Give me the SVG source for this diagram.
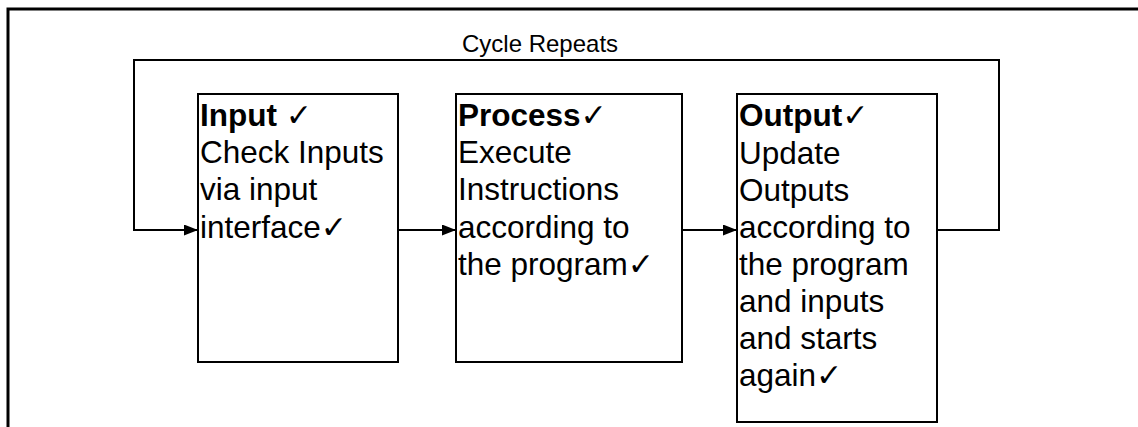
<svg xmlns="http://www.w3.org/2000/svg" width="1138" height="427" viewBox="0 0 1138 427">
<style>
.box{fill:#fff;stroke:#000;stroke-width:2}
.t{font-family:"Liberation Sans",Arial,"DejaVu Sans",sans-serif;font-size:31.5px;fill:#000}
.b{font-weight:bold}
.ln{fill:none;stroke:#000;stroke-width:2}
.frame{fill:none;stroke:#000;stroke-width:3}
</style>
<defs>
<marker id="ah" markerWidth="14" markerHeight="11" refX="14" refY="5.5" orient="auto" markerUnits="userSpaceOnUse">
<path d="M0,0 L14,5.5 L0,11 Z" fill="#000"/>
</marker>
</defs>
<rect width="1138" height="427" fill="#fff"/>
<path class="frame" d="M8,427 V9 H1138"/>
<g id="connectors">
<path class="ln" d="M937,230 H999 V60 H134 V230 H198" marker-end="url(#ah)"/>
<path class="ln" d="M398,230 H456" marker-end="url(#ah)"/>
<path class="ln" d="M682,230 H737" marker-end="url(#ah)"/>
</g>
<text class="t" x="462" y="52" style="font-size:24px">Cycle Repeats</text>
<g id="input">
<rect class="box" x="198" y="94" width="200" height="268"/>
<text class="t"><tspan class="b" x="200" y="126">Input</tspan><tspan> ✓</tspan><tspan x="200" y="163">Check Inputs</tspan><tspan x="200" y="200">via input</tspan><tspan x="200" y="238">interface✓</tspan></text>
</g>
<g id="process">
<rect class="box" x="456" y="94" width="226" height="268"/>
<text class="t"><tspan class="b" x="458" y="126">Process</tspan><tspan>✓</tspan><tspan x="458" y="163">Execute</tspan><tspan x="458" y="200">Instructions</tspan><tspan x="458" y="238">according to</tspan><tspan x="458" y="275">the program✓</tspan></text>
</g>
<g id="output">
<rect class="box" x="737" y="94" width="200" height="328"/>
<text class="t"><tspan class="b" x="739" y="126">Output</tspan><tspan>✓</tspan><tspan x="739" y="164">Update</tspan><tspan x="739" y="201">Outputs</tspan><tspan x="739" y="238">according to</tspan><tspan x="739" y="275">the program</tspan><tspan x="739" y="312">and inputs</tspan><tspan x="739" y="349">and starts</tspan><tspan x="739" y="386">again✓</tspan></text>
</g>
</svg>
